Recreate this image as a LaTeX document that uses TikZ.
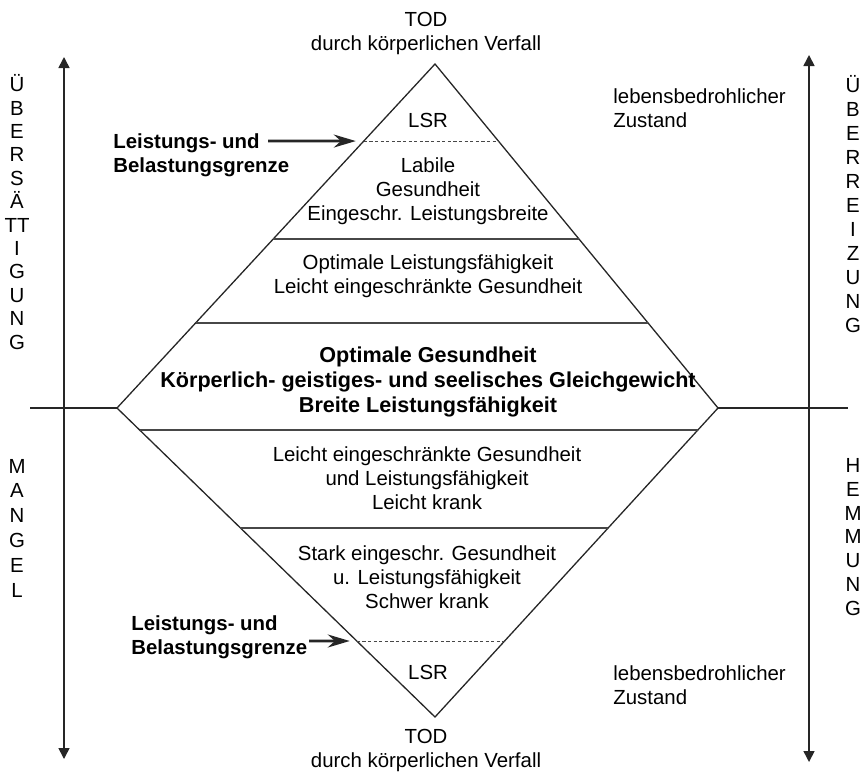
\documentclass[tikz,border=0pt]{standalone}
\usepackage{fontspec}
\setmainfont{Liberation Sans}
\usetikzlibrary{positioning, arrows.meta, calc}
\tikzset{
  every node/.style={font=\fontsize{10.2}{12}\selectfont},
  txt/.style={align=center, inner sep=0pt},
  txtb/.style={align=center, inner sep=0pt, font=\fontsize{10.8}{12.5}\selectfont\bfseries},
  lbl/.style={align=left, anchor=west, inner sep=0pt},
  grenze/.style={align=left, anchor=west, inner sep=0pt, font=\fontsize{10.2}{12}\selectfont\bfseries},
  vcol/.style={align=center, inner sep=0pt},
  rim/.style={black!85, line width=0.65pt, line join=miter},
  sep/.style={black!72, line width=0.7pt},
  sepd/.style={black!72, line width=0.45pt, dash pattern=on 1.6pt off 1.2pt},
  arr/.style={-{Stealth[length=11pt, width=6.5pt]}, line width=1.3pt, black!85},
  axis/.style={{Triangle[length=5.5pt, width=5.5pt]}-{Triangle[length=5.5pt, width=5.5pt]}, line width=0.8pt, black!85},
}

\begin{document}
\begin{tikzpicture}[x=0.5pt, y=-0.5pt]
  \useasboundingbox (0,0) rectangle (865,771);
  % corners of the diamond
  \coordinate (apex)    at (435,64);
  \coordinate (lcorner) at (117,408);
  \coordinate (rcorner) at (718,408);
  \coordinate (base)    at (435,717);
  \draw[rim] (apex) -- (rcorner) -- (base) -- (lcorner) -- cycle;
  % middle line
  \coordinate (midl) at (30,408);
  \coordinate (midr) at (848,408);
  \draw[rim] (midl) -- (lcorner);
  \draw[rim] (rcorner) -- (midr);
  % axes
  \coordinate (axlt) at (64,57);  \coordinate (axlb) at (64,759);
  \coordinate (axrt) at (809,55); \coordinate (axrb) at (809,762);
  \draw[axis] (axlt) -- (axlb);
  \draw[axis] (axrt) -- (axrb);
  % bands, upper half
  \coordinate (u1l) at ($(apex)!0.224!(lcorner)$); \coordinate (u1r) at ($(apex)!0.224!(rcorner)$);
  \coordinate (u2l) at ($(apex)!0.509!(lcorner)$); \coordinate (u2r) at ($(apex)!0.509!(rcorner)$);
  \coordinate (u3l) at ($(apex)!0.753!(lcorner)$); \coordinate (u3r) at ($(apex)!0.753!(rcorner)$);
  \draw[sepd] (u1l) -- (u1r);
  \draw[sep] (u2l) -- (u2r);
  \draw[sep] (u3l) -- (u3r);
  % bands, lower half
  \coordinate (l1l) at ($(base)!0.929!(lcorner)$); \coordinate (l1r) at ($(base)!0.929!(rcorner)$);
  \coordinate (l2l) at ($(base)!0.612!(lcorner)$); \coordinate (l2r) at ($(base)!0.612!(rcorner)$);
  \coordinate (l3l) at ($(base)!0.246!(lcorner)$); \coordinate (l3r) at ($(base)!0.246!(rcorner)$);
  \draw[sep] (l1l) -- (l1r);
  \draw[sep] (l2l) -- (l2r);
  \draw[sepd] (l3l) -- (l3r);
  % texts in the diamond
  \node[txt] (todtop) at (426,33) {TOD\\durch körperlichen Verfall};
  \node[txt] (lsrtop) at (428,120) {LSR};
  \node[txt] (labil) at (428,191) {Labile\\Gesundheit\\Eingeschr. Leistungsbreite};
  \node[txt] (optleist) at (428,276) {Optimale Leistungsfähigkeit\\Leicht eingeschränkte Gesundheit};
  \node[txtb] (optges) at (428,382) {Optimale Gesundheit\\Körperlich- geistiges- und seelisches Gleichgewicht\\Breite Leistungsfähigkeit};
  \node[txt] (leicht) at (427,478) {Leicht eingeschränkte Gesundheit\\und Leistungsfähigkeit\\Leicht krank};
  \node[txt] (stark) at (427,577) {Stark eingeschr. Gesundheit\\u. Leistungsfähigkeit\\Schwer krank};
  \node[txt] (lsrbot) at (428,672) {LSR};
  \node[txt] (todbot) at (426,750) {TOD\\durch körperlichen Verfall};
  % side notes
  \node[lbl] (lebtop) at (613,108) {lebensbedrohlicher\\Zustand};
  \node[lbl] (lebbot) at (613,685) {lebensbedrohlicher\\Zustand};
  \node[grenze] (grtop) at (113,155) {Leistungs- und\\Belastungsgrenze};
  \node[grenze] (grbot) at (131,637) {Leistungs- und\\Belastungsgrenze};
  \coordinate (grtopa) at (268,141); \coordinate (grtopb) at ($(u1l)+(-8,0)$);
  \coordinate (grbota) at (309,641); \coordinate (grbotb) at ($(l3l)+(-7,0)$);
  \draw[arr] (grtopa) -- (grtopb);
  \draw[arr] (grbota) -- (grbotb);
  % vertical words
  \node[vcol, font=\fontsize{10.2}{11.7}\selectfont] (uebersatt) at (17,212) {Ü\\B\\E\\R\\S\\Ä\\TT\\I\\G\\U\\N\\G};
  \node[vcol, font=\fontsize{10.2}{12.4}\selectfont] (mangel) at (17,528) {M\\A\\N\\G\\E\\L};
  \node[vcol] (ueberreiz) at (853,204) {Ü\\B\\E\\R\\R\\E\\I\\Z\\U\\N\\G};
  \node[vcol, font=\fontsize{10.2}{11.9}\selectfont] (hemmung) at (853,537) {H\\E\\M\\M\\U\\N\\G};
\end{tikzpicture}
\end{document}
